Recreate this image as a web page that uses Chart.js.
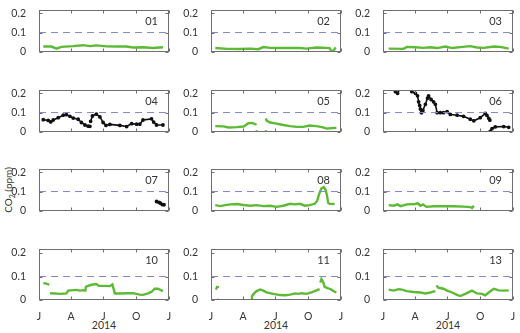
<!DOCTYPE html>
<html>
<head>
<meta charset="utf-8">
<script src="https://cdn.jsdelivr.net/npm/chart.js@4.4.0/dist/chart.umd.min.js"></script>
<style>
  body { margin: 0; width: 520px; height: 333px; background: #fff; position: relative; overflow: hidden; font-family: Lato, sans-serif; color: #333; }
  canvas { position: absolute; }
  .year { position: absolute; top: 319px; width: 60px; text-align: center; font-size: 10.5px; }
  .ylab { position: absolute; left: -21px; top: 183px; width: 60px; text-align: center; font-size: 10px; transform: rotate(-90deg); white-space: nowrap; }
  .ylab sub { font-size: 7px; }
</style>
</head>
<body>
<div class="ylab">CO<sub>2</sub> (ppm)</div>
<div class="year" style="left:74px">2014</div>
<div class="year" style="left:246px">2014</div>
<div class="year" style="left:418px">2014</div>
<script>
// day of year 2014, CO2 ppm; [day, null] = gap
const PANEL_IDS = ['01', '02', '03', '04', '05', '06', '07', '08', '09', '10', '11', '13'];
const X_TICKS = [0, 90, 181, 273, 365];
const X_TICK_LABELS = ['J', 'A', 'J', 'O', 'J'];
const Y_TICKS = [0, 0.1, 0.2];
const THRESHOLD = 0.1;

const s01 = [[12,.027],[35,.027],[49,.016],[63,.025],[96,.029],[124,.034],[143,.029],[161,.033],[190,.028],[217,.027],[245,.027],[264,.022],[292,.023],[320,.019],[348,.023]];
const s02 = [[12,.019],[45,.015],[82,.014],[110,.016],[133,.013],[147,.024],[166,.020],[194,.019],[222,.020],[250,.019],[268,.016],[296,.022],[324,.020],[333,.019],[337,.005],[342,.003],[346,.010],[350,.023]];
const s03 = [[16,.016],[58,.015],[67,.025],[91,.023],[114,.020],[133,.023],[152,.019],[175,.027],[194,.019],[217,.024],[245,.029],[264,.022],[283,.020],[311,.027],[329,.025],[353,.016]];
const s04 = [[12,.063],[26,.059],[33,.051],[40,.061],[54,.073],[68,.086],[77,.089],[87,.080],[96,.071],[110,.065],[119,.048],[129,.035],[138,.029],[143,.028],[144,null],[145,.054],[150,.082],[161,.092],[171,.077],[180,.048],[188,.033],[199,.038],[227,.033],[246,.027],[260,.042],[274,.039],[283,.039],[292,.061],[316,.067],[322,.050],[330,.035],[348,.035]];
const s05 = [[12,.029],[35,.028],[49,.022],[73,.024],[91,.027],[96,.032],[105,.044],[115,.046],[124,.039],[128,.037],[140,null],[154,.070],[156,.058],[166,.048],[184,.042],[203,.035],[222,.029],[240,.025],[259,.025],[277,.032],[296,.029],[315,.023],[324,.016],[343,.019],[352,.020]];
const s06 = [[35,.209],[41,.200],[49,.230],[67,.230],[77,.230],[81,.209],[91,.200],[97,.187],[100,.156],[103,.137],[105,.118],[108,.099],[112,.111],[119,.143],[125,.175],[128,.187],[135,.168],[142,.156],[147,.143],[152,.099],[161,.099],[170,.099],[180,.105],[189,.090],[208,.086],[226,.080],[245,.065],[255,.057],[273,.073],[287,.095],[292,.085],[297,.070],[300,.060],[300.5,null],[301,.001],[306,.016],[315,.025],[339,.027],[353,.023]];
const s07 = [[330,.048],[337,.043],[341,.039],[346,.032],[351,.031]];
const s08 = [[12,.029],[26,.024],[40,.029],[54,.033],[73,.035],[91,.030],[110,.026],[128,.029],[147,.024],[166,.026],[184,.020],[203,.026],[222,.036],[236,.033],[250,.036],[263,.026],[277,.029],[291,.036],[298,.051],[304,.089],[310,.116],[317,.123],[322,.108],[326,.076],[329,.041],[333,.036],[347,.035]];
const s09 = [[16,.029],[30,.026],[41,.033],[49,.024],[67,.033],[91,.035],[97,.039],[105,.026],[112,.033],[122,.020],[142,.023],[170,.024],[198,.023],[226,.021],[245,.019],[250,.014],[255,.026]];
const s10 = [[12,.072],[21,.070],[29,.065],[30,null],[31,.029],[45,.028],[59,.026],[77,.028],[82,.040],[105,.043],[115,.040],[124,.042],[130,.040],[132,.057],[147,.065],[161,.068],[168,.060],[185,.060],[199,.059],[206,.066],[210,.044],[213,.028],[227,.028],[246,.029],[264,.029],[283,.023],[292,.022],[306,.028],[316,.035],[325,.048],[334,.048],[348,.038]];
const s11 = [[14,.044],[17,.056],[19,.060],[60,null],[113,.001],[115,.016],[121,.028],[128,.038],[138,.045],[147,.040],[156,.032],[175,.026],[194,.021],[208,.020],[222,.023],[236,.028],[245,.026],[254,.029],[268,.026],[282,.032],[296,.041],[305,.046],[306,null],[307,.074],[310,.089],[315,.077],[319,.056],[329,.050],[338,.044],[347,.035],[352,.032]];
const s13 = [[16,.044],[30,.040],[44,.046],[53,.044],[67,.038],[86,.034],[105,.032],[119,.028],[133,.032],[147,.038],[148,null],[150,.062],[156,.052],[170,.048],[180,.040],[194,.032],[208,.022],[217,.017],[231,.026],[250,.040],[264,.028],[278,.026],[287,.020],[297,.032],[311,.048],[325,.041],[339,.040],[353,.041]];

// stray single readings near zero
const dots05 = [[128,.003],[154,.003]];
const dots11 = [[19,.001]];

const SERIES = [s01, s02, s03, s04, s05, s06, s07, s08, s09, s10, s11, s13];
const DOTS = [[], [], [], [], dots05, [], [], [], [], [], dots11, []];
const BLACK = ['04', '06', '07'];

const GREEN = '#5dba34';
const DASH = '#8088d2';

const COL_LEFT = [39, 211, 383];
const ROW_TOP = [5, 85, 164, 244];
const PLOT_W = 130, PLOT_H = 56;
const PAD_L = 34, PAD_T = 6, PAD_R = 6;

const toXY = (arr) => arr.map(p => ({ x: p[0], y: p[1] }));

const framePlugin = {
    id: 'frame',
    afterDatasetsDraw(chart) {
        const { ctx, chartArea: a, scales } = chart;
        ctx.save();
        ctx.strokeStyle = '#6f6f6f';
        ctx.lineWidth = 1;
        const l = Math.round(a.left) + 0.5, r = Math.round(a.right) - 0.5;
        const t = Math.round(a.top) + 0.5, b = Math.round(a.bottom) - 0.5;
        ctx.strokeRect(l, t, r - l, b - t);
        ctx.beginPath();
        scales.x.ticks.forEach(tk => {
            const px = Math.round(scales.x.getPixelForValue(tk.value)) + 0.5;
            ctx.moveTo(px, t); ctx.lineTo(px, t + 3);
            ctx.moveTo(px, b); ctx.lineTo(px, b - 3);
        });
        scales.y.ticks.forEach(tk => {
            const py = Math.round(scales.y.getPixelForValue(tk.value)) + 0.5;
            ctx.moveTo(l, py); ctx.lineTo(l + 3, py);
            ctx.moveTo(r, py); ctx.lineTo(r - 3, py);
        });
        ctx.stroke();
        ctx.restore();
    }
};

const labelPlugin = {
    id: 'panelLabel',
    afterDatasetsDraw(chart, args, opts) {
        const { ctx, chartArea: a } = chart;
        ctx.save();
        ctx.font = '11px Lato';
        ctx.fillStyle = '#333';
        ctx.textAlign = 'right';
        ctx.textBaseline = 'middle';
        ctx.fillText(opts.text, a.right - 11, a.top + 11);
        ctx.restore();
    }
};

PANEL_IDS.forEach((id, i) => {
    const row = Math.floor(i / 3), col = i % 3;
    const lastRow = row === ROW_TOP.length - 1;
    const xAxisH = lastRow ? 20 : 2;
    const canvas = document.createElement('canvas');
    const w = PAD_L + PLOT_W + PAD_R;
    const h = PAD_T + PLOT_H + xAxisH;
    canvas.width = w;
    canvas.height = h;
    canvas.style.left = (COL_LEFT[col] - PAD_L) + 'px';
    canvas.style.top = (ROW_TOP[row] - PAD_T) + 'px';
    document.body.appendChild(canvas);

    const black = BLACK.includes(id);
    const color = black ? '#111' : GREEN;

    new Chart(canvas.getContext('2d'), {
        type: 'line',
        data: {
            datasets: [
                {
                    data: [{ x: 0, y: THRESHOLD }, { x: 365, y: THRESHOLD }],
                    borderColor: DASH,
                    borderWidth: 1,
                    borderDash: [7, 5],
                    pointRadius: 0
                },
                {
                    data: toXY(SERIES[i]),
                    borderColor: color,
                    backgroundColor: color,
                    borderWidth: black ? 1.6 : 2.4,
                    pointRadius: black ? 1.1 : 0,
                    spanGaps: false,
                    tension: 0
                },
                {
                    data: toXY(DOTS[i]),
                    showLine: false,
                    backgroundColor: color,
                    borderWidth: 0,
                    pointRadius: 1.2
                }
            ]
        },
        options: {
            responsive: false,
            animation: false,
            devicePixelRatio: 1,
            layout: { padding: { top: PAD_T, right: PAD_R, left: 0, bottom: 0 } },
            plugins: {
                legend: { display: false },
                tooltip: { enabled: false },
                panelLabel: { text: id }
            },
            scales: {
                x: {
                    type: 'linear',
                    min: 0,
                    max: 365,
                    grid: { display: false },
                    border: { display: false },
                    afterBuildTicks: (s) => { s.ticks = X_TICKS.map(v => ({ value: v })); },
                    afterFit: (s) => { s.height = xAxisH; },
                    ticks: {
                        display: lastRow,
                        padding: 2,
                        maxRotation: 0,
                        autoSkip: false,
                        color: '#333',
                        font: { family: 'Lato', size: 10.5 },
                        callback: (v) => X_TICK_LABELS[X_TICKS.indexOf(v)]
                    }
                },
                y: {
                    min: 0,
                    max: 0.216,
                    grid: { display: false },
                    border: { display: false },
                    afterBuildTicks: (s) => { s.ticks = Y_TICKS.map(v => ({ value: v })); },
                    afterFit: (s) => { s.width = PAD_L; },
                    ticks: {
                        padding: 5,
                        color: '#333',
                        font: { family: 'Lato', size: 10.5 },
                        callback: (v) => String(v)
                    }
                }
            }
        },
        plugins: [framePlugin, labelPlugin]
    });
});
</script>
</body>
</html>
